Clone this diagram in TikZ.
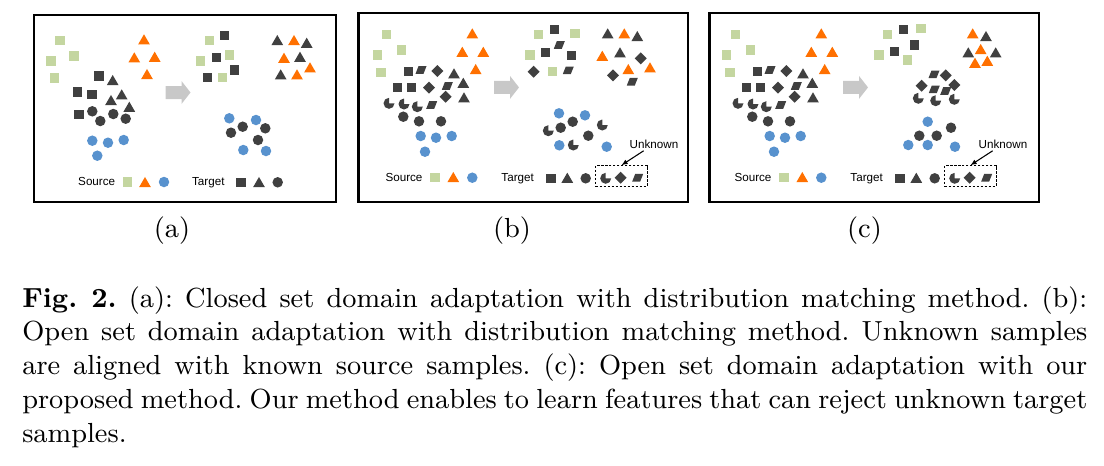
\documentclass[tikz,border=0pt]{standalone}
\usepackage{fontspec}
\newfontfamily\panelfont{Liberation Sans}
\usepackage{xcolor}
\definecolor{osdaGreen} {RGB}{196, 214, 160}
\definecolor{osdaOrange}{RGB}{255, 112,   0}
\definecolor{osdaBlue}  {RGB}{ 88, 146, 206}
\definecolor{osdaDark}  {RGB}{ 64,  64,  64}
\definecolor{osdaArrow} {RGB}{200, 200, 200}
\usepackage{tikz}
\usetikzlibrary{
  arrows.meta,
  shapes.geometric,
}
% one pixel of the page
\newlength\pxu
\setlength\pxu{0.3259pt}

% left half and legend of the open set panels, #1 = name prefix
\newcommand{\openleft}[1]{
  \foreach \p [count=\i] in {(386.7,34.3),(401.7,50),(377.7,55),(381,72.3)}
    \node[ssq] (#1-ssq\i) at \p {};
  \foreach \p [count=\i] in {(472.3,33.3),(462.3,51.7),(483.3,51.7),(475.7,69)}
    \node[stri] (#1-stri\i) at \p {};
  \foreach \p [count=\i] in {(408.3,71.7),(397.7,87.3),(411.7,87.3)}
    \node[tsq] (#1-tsq\i) at \p {};
  \foreach \p in {(421,70),(447.3,86),(431.7,105)}
    \pic at \p {slant};
  \foreach \p [count=\i] in {(437.3,71),(429,87.7),(445.7,96.7)}
    \node[tdia] (#1-tdia\i) at \p {};
  \foreach \p [count=\i] in {(454,73.3),(463.3,82.7),(464,97.3)}
    \node[ttri] (#1-ttri\i) at \p {};
  \foreach \p in {(389,103.3),(404,104),(417.3,106.7)}
    \pic at \p {pacman};
  \foreach \p [count=\i] in {(403.3,116.7),(419,121.3),(441,121.3)}
    \node[tdot] (#1-tdot\i) at \p {};
  \foreach \p [count=\i] in {(420.7,136),(436,137.7),(451.7,136),(425,151.7)}
    \node[sdot] (#1-sdot\i) at \p {};
  \pic at (506.5,87.4) {bigarrow};

  % legend
  \node[legtext] (#1-src) at (404,181.5) {Source};
  \node[ssq]  (#1-lsq)  at (435,177.7) {};
  \node[stri] (#1-ltri) at (453.3,177) {};
  \node[sdot] (#1-ldot) at (472.3,177.7) {};
  \node[legtext] (#1-tgt) at (517.7,181.5) {Target};
  \node[tsq]  (#1-ltsq)  at (551,178.3) {};
  \node[ttri] (#1-lttri) at (567.3,177.7) {};
  \node[tdot] (#1-ltdot) at (585.7,178.3) {};
  \node[unkbox] (#1-ub) at (621.5,175.8) {};
  \pic at (605.7,178.3) {pacman};
  \node[tdia] (#1-ldia) at (620.7,177.7) {};
  \pic at (637.7,177.7) {slant};
  \node[legtext] (#1-uk) at (654,148.2) {Unknown};
  \draw[pointer] (#1-uk) -- (#1-ub.north);
}

\begin{document}
\begin{tikzpicture}[
  x=\pxu, y=-\pxu,
  sample/.style={inner sep=0pt, outer sep=0pt, draw=none},
  ssq/.style={sample, rectangle, fill=osdaGreen, minimum size=9.5\pxu},
  tsq/.style={sample, rectangle, fill=osdaDark, minimum size=9.5\pxu},
  sdot/.style={sample, circle, fill=osdaBlue, minimum size=10.5\pxu},
  tdot/.style={sample, circle, fill=osdaDark, minimum size=10.5\pxu},
  stri/.style={sample, regular polygon, regular polygon sides=3, fill=osdaOrange,
    minimum size=13.5\pxu, yshift=-1.7\pxu},
  ttri/.style={sample, regular polygon, regular polygon sides=3, fill=osdaDark,
    minimum size=13.5\pxu, yshift=-1.7\pxu},
  tdia/.style={sample, diamond, fill=osdaDark, minimum size=12\pxu},
  % y runs downwards here, so the open quarter (top right) is 270..360
  pacman/.pic={
    \fill[osdaDark] (0,0) -- (0:5.5) arc[start angle=0, end angle=270, radius=5.5] -- cycle;
  },
  slant/.pic={
    \fill[osdaDark] (-5.5,3.8) -- (2.5,3.8) -- (5.5,-3.8) -- (-2.5,-3.8) -- cycle;
  },
  bigarrow/.pic={
    \fill[osdaArrow] (-12.5,-6.5) -- (3.5,-6.5) -- (3.5,-11.5) -- (12.5,0)
      -- (3.5,11.5) -- (3.5,6.5) -- (-12.5,6.5) -- cycle;
  },
  panel/.style={draw=black, line width=0.7pt},
  legtext/.style={font=\panelfont\fontsize{3.8}{4.5}\selectfont, inner sep=0.6pt, anchor=base},
  sublabel/.style={font=\fontsize{9}{11}\selectfont, anchor=base, inner sep=0pt},
  pointer/.style={-{Latex[length=2pt, width=1.7pt]}, line width=0.35pt},
  unkbox/.style={draw, dash pattern=on 0.8pt off 0.5pt, line width=0.3pt,
    minimum width=51.6\pxu, minimum height=20.3\pxu, inner sep=0pt},
]
  \useasboundingbox (0,0) rectangle (1104,465);

  % Panel frames
  \draw[panel] (33.7,15) rectangle (335.7,201.7);
  \draw[panel] (358.5,13) rectangle (688,201.7);
  \draw[panel] (709.5,13) rectangle (1039,202);

  % (a) closed set: source + target, before and after matching
  \foreach \p [count=\i] in {(60,40.7),(74,56),(51,61),(54.3,78),
      (209.3,40.7),(229.3,55),(200.7,61),(222.7,77.3)}
    \node[ssq] (a-ssq\i) at \p {};
  \foreach \p [count=\i] in {(144,39.3),(134.3,57.3),(154.7,56.7),(147,74),
      (294,40),(284,57.7),(310,67.3),(297,74.3)}
    \node[stri] (a-stri\i) at \p {};
  \foreach \p [count=\i] in {(92.3,140.7),(108,142.7),(123.7,140),(97.3,155.7),
      (229.3,118.3),(256,120),(243.3,150),(266,151)}
    \node[sdot] (a-sdot\i) at \p {};
  \foreach \p [count=\i] in {(99,76),(77.3,92),(92,94.3),(79,114.3),
      (224.7,35.3),(216.3,57.7),(234.3,70),(207.3,77.3)}
    \node[tsq] (a-tsq\i) at \p {};
  \foreach \p [count=\i] in {(112.7,80),(121.7,94.3),(111,100),(129.3,106.7),
      (277.3,40),(306.7,42.7),(300,56.7),(280.7,74.3)}
    \node[ttri] (a-ttri\i) at \p {};
  \foreach \p [count=\i] in {(92.3,111.3),(100.3,121),(113.3,114),(125.7,118.7),
      (242.7,126.7),(265.3,128.3),(231,132.7),(258,140)}
    \node[tdot] (a-tdot\i) at \p {};
  \pic at (178,92.5) {bigarrow};

  \node[legtext] (a-src) at (96.7,185.9) {Source};
  \node[ssq]  (a-lsq)  at (127.3,182) {};
  \node[stri] (a-ltri) at (145,182) {};
  \node[sdot] (a-ldot) at (164,182) {};
  \node[legtext] (a-tgt) at (208.3,185.9) {Target};
  \node[tsq]  (a-ltsq)  at (241,182.3) {};
  \node[ttri] (a-lttri) at (259,182) {};
  \node[tdot] (a-ltdot) at (277.7,182.3) {};

  % (b) open set, distribution matching
  \openleft{b}
  \foreach \p [count=\i] in {(538.3,34.7),(575,33.3),(530,55),(552.7,71.7)}
    \node[ssq] (b-ssqr\i) at \p {};
  \foreach \p [count=\i] in {(554.3,29.3),(545.7,52.3),(571.7,55.7)}
    \node[tsq] (b-tsqr\i) at \p {};
  \foreach \p in {(559.3,45),(568.3,70.3),(632.3,81.7)}
    \pic at \p {slant};
  \foreach \p [count=\i] in {(533.7,71.7),(640.7,58.3),(613,75.3)}
    \node[tdia] (b-tdiar\i) at \p {};
  \foreach \p [count=\i] in {(607.7,33.3),(637.3,36),(620,52.3)}
    \node[ttri] (b-ttrir\i) at \p {};
  \foreach \p [count=\i] in {(624.3,33.3),(602.3,55.7),(628.3,69),(650,67.3)}
    \node[stri] (b-strir\i) at \p {};
  \foreach \p [count=\i] in {(559,113.3),(585,115.3),(559.3,145.3),(606.7,146.7)}
    \node[sdot] (b-sdotr\i) at \p {};
  \foreach \p [count=\i] in {(572.7,121.7),(560.7,127.7),(588.3,135.7)}
    \node[tdot] (b-tdotr\i) at \p {};
  \foreach \p in {(602.3,125),(548.3,130.7),(573.3,145)}
    \pic at \p {pacman};

  % (c) open set, our method
  \begin{scope}[shift={(349,0)}]
    \openleft{c}
  \end{scope}
  \foreach \p [count=\i] in {(887.3,34.3),(921,28.3),(879,55),(907.7,60)}
    \node[ssq] (c-ssqr\i) at \p {};
  \foreach \p [count=\i] in {(903.3,29.3),(914.3,45),(894.3,51.7)}
    \node[tsq] (c-tsqr\i) at \p {};
  \foreach \p [count=\i] in {(972.7,33.3),(980.7,49),(975,62.7),(987.3,60.7)}
    \node[stri] (c-strir\i) at \p {};
  \foreach \p [count=\i] in {(986,36),(968.3,52.3),(995.7,52.3)}
    \node[ttri] (c-ttrir\i) at \p {};
  \foreach \p in {(934,74.3),(934.3,89.3),(945.7,91)}
    \pic at \p {slant};
  \foreach \p [count=\i] in {(945.7,75.3),(921.7,85.7),(954.3,85)}
    \node[tdia] (c-tdiar\i) at \p {};
  \foreach \p in {(918.3,98.3),(935.7,100.7),(954.3,99.3)}
    \pic at \p {pacman};
  \foreach \p [count=\i] in {(927.7,121.7),(908.3,145),(927.7,145),(955,146.7)}
    \node[sdot] (c-sdotr\i) at \p {};
  \foreach \p [count=\i] in {(951,127.7),(919.3,135.7),(936.7,135.7)}
    \node[tdot] (c-tdotr\i) at \p {};

  % Sub-figure labels
  \node[sublabel] (lab-a) at (172,237) {(a)};
  \node[sublabel] (lab-b) at (512,237) {(b)};
  \node[sublabel] (lab-c) at (864.5,237) {(c)};

  % Caption
  \node[anchor=base west, text width=347.1pt, align=justify, inner sep=0pt,
    font=\fontsize{9}{11}\selectfont\frenchspacing] (caption) at (21.7,307)
    {\textbf{Fig.~2.} (a): Closed set domain adaptation with distribution matching
     method. (b): Open set domain adaptation with distribution matching method.
     Unknown samples are aligned with known source samples. (c): Open set domain
     adaptation with our proposed method. Our method enables to learn features
     that can reject unknown target samples.};
\end{tikzpicture}
\end{document}
